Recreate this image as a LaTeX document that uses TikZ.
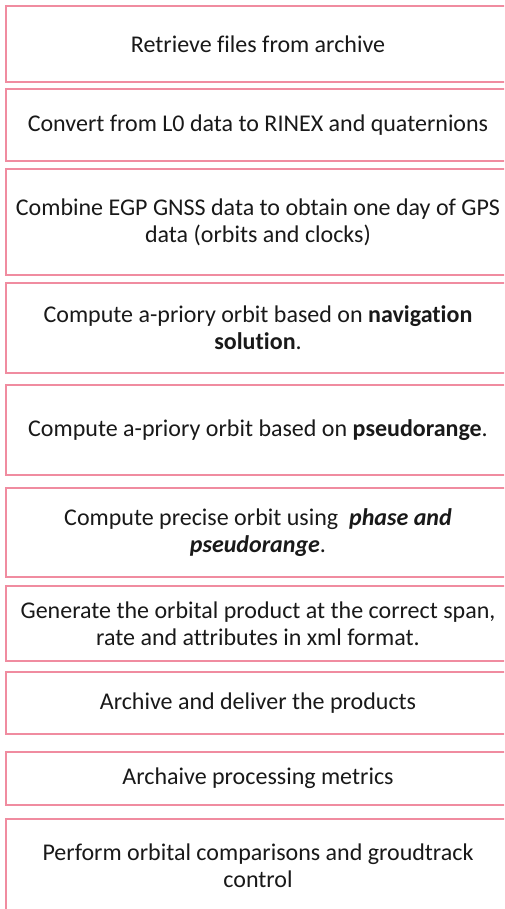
\documentclass[tikz,border=0pt]{standalone}
\usepackage{fontspec}
\setmainfont{Carlito}[Ligatures=NoCommon]
\usetikzlibrary{positioning}
\definecolor{boxcolor}{RGB}{240,140,160}
\tikzset{
    task/.style={rectangle, draw=boxcolor, line width=1.4pt, fill=white, minimum width=504pt, inner sep=0pt, align=center, font=\fontsize{24}{27}\selectfont, text=black!90},
}

\begin{document}
\begin{tikzpicture}[x=1pt, y=-1pt]
    \clip (0,0) rectangle (504,909);
    \fill[white] (0,0) rectangle (504,909);

    % Processing steps, top to bottom
    \node[task, minimum height=76pt] (retrieve) at (258,44) {Retrieve files from archive};
    \node[task, minimum height=72pt] (convert) at (258,125) {Convert from L0 data to RINEX and quaternions};
    \node[task, minimum height=106pt] (combine) at (258,222) {Combine EGP GNSS data to obtain one day of GPS\\data (orbits and clocks)};
    \node[task, minimum height=90pt] (navorbit) at (258,328) {Compute a-priory orbit based on \textbf{navigation}\\\textbf{solution}.};
    \node[task, minimum height=90pt] (pseudoorbit) at (258,430) {Compute a-priory orbit based on \textbf{pseudorange}.};
    \node[task, minimum height=89pt] (preciseorbit) at (258,532.5) {Compute precise orbit using \ \textbf{\textit{phase and}}\\\textbf{\textit{pseudorange}}.};
    \node[task, minimum height=75pt] (generate) at (258,623.5) {Generate the orbital product at the correct span,\\rate and attributes in xml format.};
    \node[task, minimum height=62pt] (deliver) at (258,703) {Archive and deliver the products};
    \node[task, minimum height=53pt] (metrics) at (258,778.5) {Archaive processing metrics};
    \node[task, minimum height=94pt] (compare) at (258,866) {Perform orbital comparisons and groudtrack\\control};
\end{tikzpicture}
\end{document}
